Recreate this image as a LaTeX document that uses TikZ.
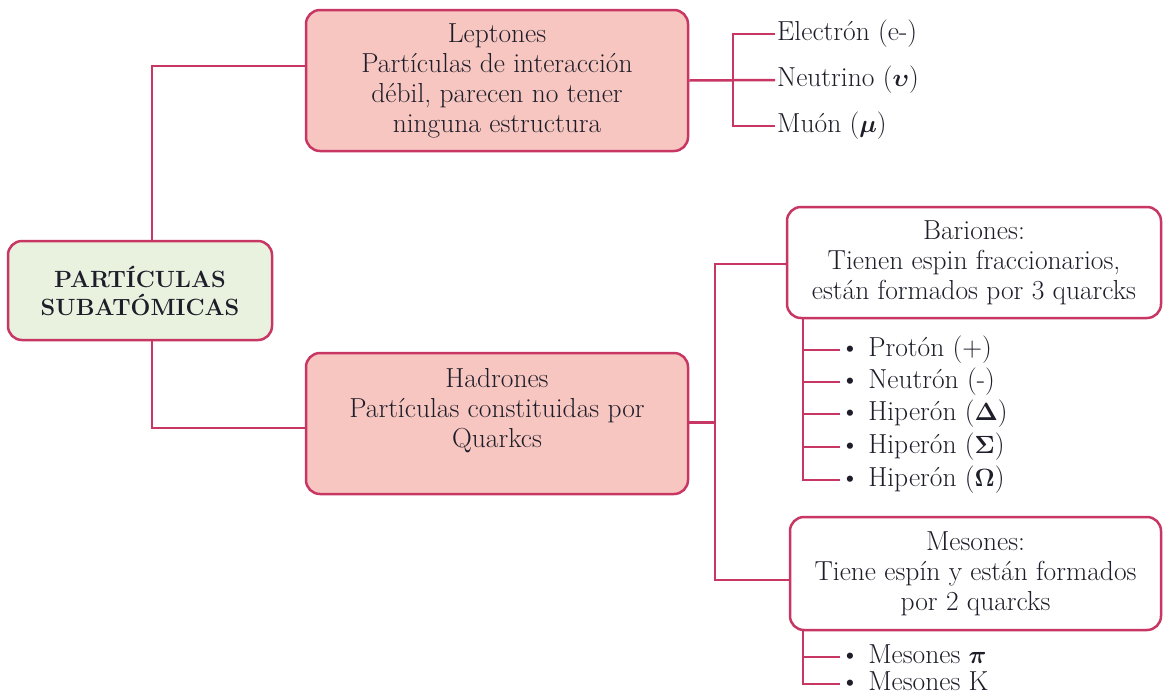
\documentclass[tikz,border=0pt]{standalone}
\usepackage{amsmath}
\definecolor{crim}{HTML}{C83764}
\definecolor{pinkf}{HTML}{F8C6C0}
\definecolor{greenf}{HTML}{E9F2DE}
\definecolor{ink}{HTML}{1E1E2A}
\newcommand\mainfs{\fontsize{27.5}{30}\selectfont}
\newcommand\rootfs{\fontsize{23.5}{28}\selectfont\bfseries}
\tikzset{
  conn/.style={draw=crim, line width=2.5pt},
  boxbase/.style={draw=crim, line width=2.5pt, rounded corners=14pt, inner sep=0pt, align=center, text=ink},
  pinkbox/.style={boxbase, fill=pinkf, font=\mainfs},
  whitebox/.style={boxbase, fill=white, font=\mainfs},
  rootbox/.style={boxbase, fill=greenf, font=\rootfs},
  txt/.style={align=center, text=ink, font=\mainfs, inner sep=0pt},
  leaf/.style={anchor=west, text=ink, font=\mainfs, inner sep=2pt, text height=18pt, text depth=5pt},
  item/.style={anchor=west, text=ink, font=\mainfs, inner sep=0pt, text height=17pt, text depth=5pt}
}
\begin{document}
\begin{tikzpicture}[x=1pt,y=-1pt]
\useasboundingbox (0,0) rectangle (1163,697);
\fill[white] (0,0) rectangle (1163,697);

% boxes
\node[rootbox, minimum width=264pt, minimum height=99pt] (root) at (140,290.5) {PARTÍCULAS\\SUBATÓMICAS};
\node[pinkbox, minimum width=382pt, minimum height=141pt] (lep) at (497,80.5)
  {Leptones\\Partículas de interacción\\débil, parecen no tener\\ninguna estructura};
\node[pinkbox, minimum width=382pt, minimum height=141pt] (had) at (497,423.5) {};
\node[txt] (hadtxt) at (497,411) {Hadrones\\Partículas constituidas por\\Quarkcs};
\node[whitebox, minimum width=374pt, minimum height=111pt] (bar) at (974,262.5)
  {Bariones:\\Tienen espin fraccionarios,\\están formados por 3 quarcks};
\node[whitebox, minimum width=371pt, minimum height=113pt] (mes) at (975.5,573.5)
  {Mesones:\\Tiene espín y están formados\\por 2 quarcks};

% lepton leaves
\node[leaf] (e) at (775,34) {Electrón (e-)};
\node[leaf] (n) at (775,80) {Neutrino ($\boldsymbol{\upsilon}$)};
\node[leaf] (m) at (775,126) {Muón ($\boldsymbol{\mu}$)};

% baryon items
\node[item] (p1) at (840,350) {\textbullet\ Protón (+)};
\node[item] (p2) at (840,382) {\textbullet\ Neutrón (-)};
\node[item] (p3) at (840,414) {\textbullet\ Hiperón ($\mathbf{\Delta}$)};
\node[item] (p4) at (840,447) {\textbullet\ Hiperón ($\mathbf{\Sigma}$)};
\node[item] (p5) at (840,480) {\textbullet\ Hiperón ($\mathbf{\Omega}$)};

% meson items
\node[item] (k1) at (840,657) {\textbullet\ Mesones $\boldsymbol{\pi}$};
\node[item] (k2) at (840,684) {\textbullet\ Mesones K};

% junction columns
\coordinate (lx) at (733,0);
\coordinate (hx) at (715,0);
\coordinate (bx) at (803,0);

% root connectors
\draw[conn] ([xshift=12pt]root.north) |- ([yshift=14.5pt]lep.west);
\draw[conn] ([xshift=12pt]root.south) |- ([yshift=-4.5pt]had.west);

% lepton connectors
\draw[conn] (lep.east) -- (n.west);
\draw[conn] (e.west) -- (e.west -| lx) -- (m.west -| lx) -- (m.west);

% hadron connectors
\draw[conn] ([yshift=1pt]had.east) -- ([yshift=1pt]had.east -| hx);
\draw[conn] ([yshift=-1.5pt]bar.west) -- ([yshift=-1.5pt]bar.west -| hx) -- ([yshift=-6.5pt]mes.west -| hx) -- ([yshift=-6.5pt]mes.west);

% baryon list connectors
\draw[conn] (bar.south -| bx) -- (p5.west -| bx) -- (p5.west);
\foreach \p in {p1,p2,p3,p4} { \draw[conn] (\p.west -| bx) -- (\p.west); }

% meson list connectors
\draw[conn] (mes.south -| bx) -- (k2.west -| bx) -- (k2.west);
\draw[conn] (k1.west -| bx) -- (k1.west);
\end{tikzpicture}
\end{document}
